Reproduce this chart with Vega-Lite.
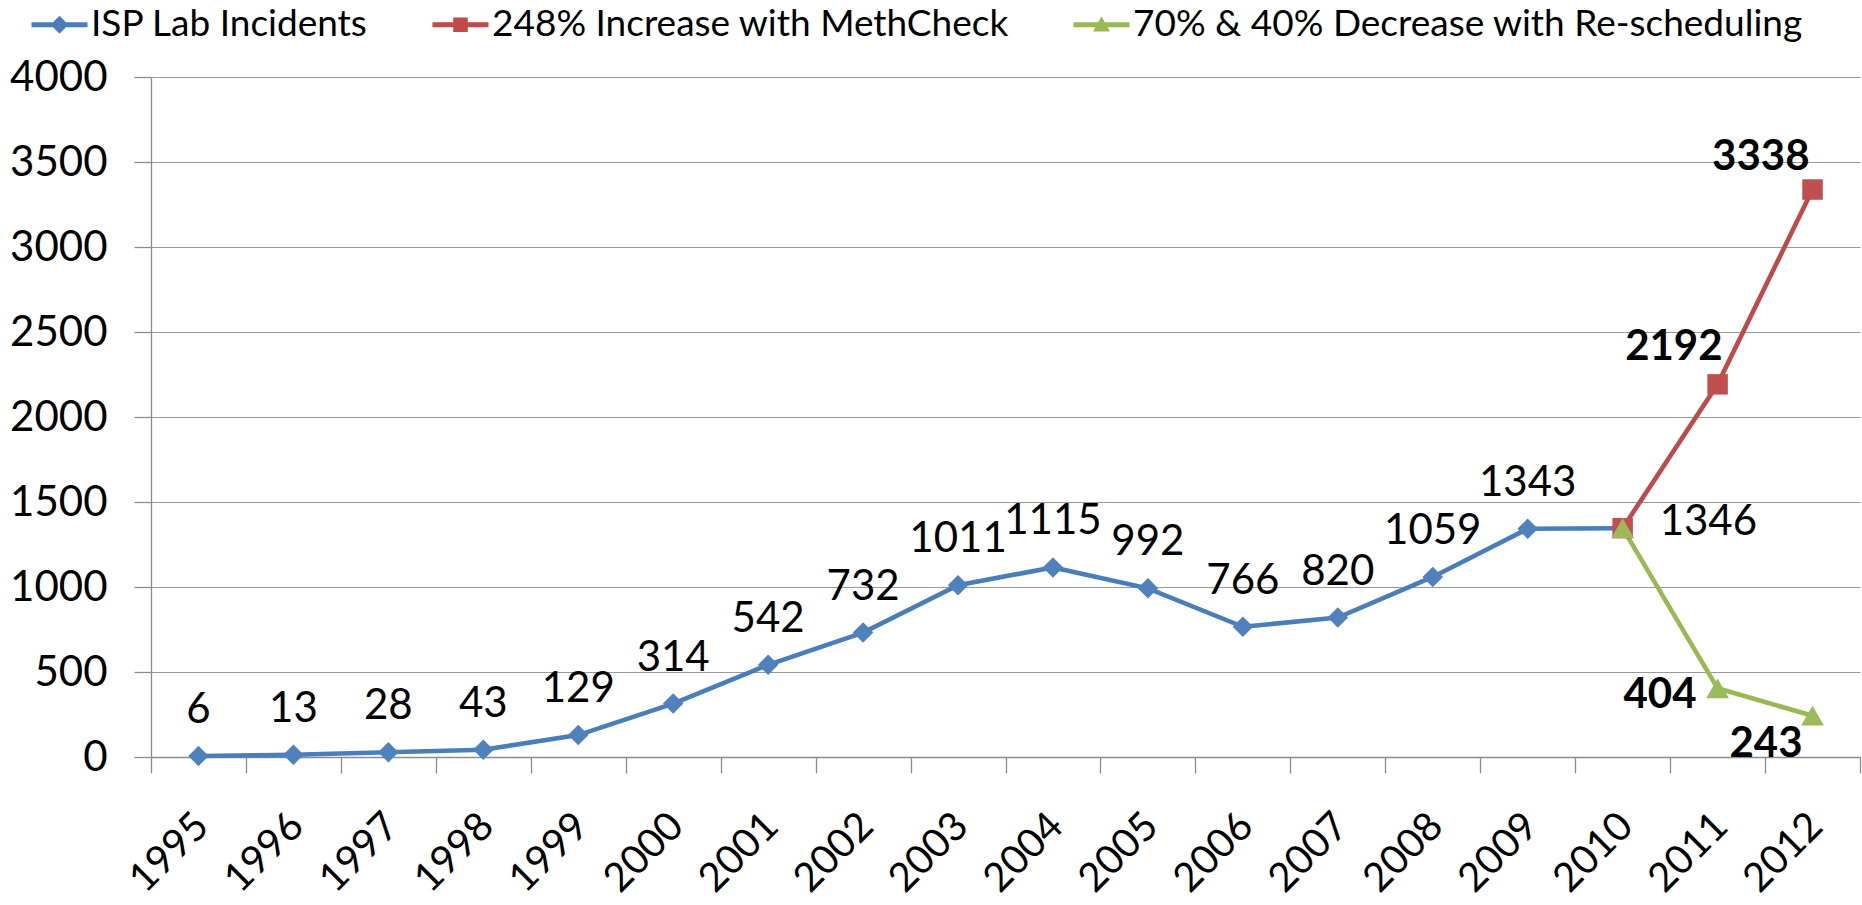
{
  "$schema": "https://vega.github.io/schema/vega-lite/v6.json",
  "width": 1709,
  "height": 680,
  "autosize": {"type": "none"},
  "padding": {"left": 151, "top": 77, "right": 2, "bottom": 148},
  "background": "white",
  "config": {
    "view": {"stroke": null},
    "font": "Lato",
    "axis": {"labelFont": "Lato", "labelColor": "black", "domainColor": "#8c8c8c", "tickColor": "#8c8c8c", "gridColor": "#9a9a9a", "domainWidth": 1.3, "tickWidth": 1.3, "gridWidth": 1.2}
  },
  "data": {
    "values": [
      {"year": "1995", "series": "ISP Lab Incidents", "value": 6},
      {"year": "1996", "series": "ISP Lab Incidents", "value": 13},
      {"year": "1997", "series": "ISP Lab Incidents", "value": 28},
      {"year": "1998", "series": "ISP Lab Incidents", "value": 43},
      {"year": "1999", "series": "ISP Lab Incidents", "value": 129},
      {"year": "2000", "series": "ISP Lab Incidents", "value": 314},
      {"year": "2001", "series": "ISP Lab Incidents", "value": 542},
      {"year": "2002", "series": "ISP Lab Incidents", "value": 732},
      {"year": "2003", "series": "ISP Lab Incidents", "value": 1011},
      {"year": "2004", "series": "ISP Lab Incidents", "value": 1115},
      {"year": "2005", "series": "ISP Lab Incidents", "value": 992},
      {"year": "2006", "series": "ISP Lab Incidents", "value": 766},
      {"year": "2007", "series": "ISP Lab Incidents", "value": 820},
      {"year": "2008", "series": "ISP Lab Incidents", "value": 1059},
      {"year": "2009", "series": "ISP Lab Incidents", "value": 1343},
      {"year": "2010", "series": "ISP Lab Incidents", "value": 1346},
      {"year": "2010", "series": "248% Increase with MethCheck", "value": 1346},
      {"year": "2011", "series": "248% Increase with MethCheck", "value": 2192},
      {"year": "2012", "series": "248% Increase with MethCheck", "value": 3338},
      {"year": "2010", "series": "70% & 40% Decrease with Re-scheduling", "value": 1346},
      {"year": "2011", "series": "70% & 40% Decrease with Re-scheduling", "value": 404},
      {"year": "2012", "series": "70% & 40% Decrease with Re-scheduling", "value": 243}
    ]
  },
  "encoding": {
    "x": {
      "field": "year", "type": "ordinal", "sort": null,
      "scale": {"type": "band", "paddingInner": 0, "paddingOuter": 0},
      "axis": {"title": null, "labelAngle": -45, "labelAlign": "right", "labelBaseline": "alphabetic", "labelOffset": 12, "labelPadding": 55, "labelFontSize": 40, "tickSize": 16, "tickBand": "extent", "grid": false, "labelOverlap": false}
    },
    "y": {
      "field": "value", "type": "quantitative",
      "scale": {"domain": [0, 4000], "nice": false},
      "axis": {"title": null, "values": [0, 500, 1000, 1500, 2000, 2500, 3000, 3500, 4000], "labelFontSize": 42, "tickSize": 17, "labelPadding": 27, "grid": true, "format": "d"}
    }
  },
  "layer": [
    {
      "mark": {"type": "line", "strokeWidth": 4.6},
      "encoding": {
        "color": {
          "field": "series", "type": "nominal",
          "scale": {"domain": ["ISP Lab Incidents", "248% Increase with MethCheck", "70% & 40% Decrease with Re-scheduling"], "range": ["#4A7EBB", "#BE4B48", "#98B954"]},
          "legend": {
            "orient": "none", "legendX": -124, "legendY": -71, "direction": "horizontal", "title": null,
            "labelFont": "Lato", "labelFontSize": 37, "labelColor": "black", "labelLimit": 1000, "labelOffset": 27,
            "columnPadding": 60, "padding": 0, "symbolSize": 784, "symbolStrokeWidth": 0,
            "encode": {"symbols": {"update": {
              "shape": {"signal": "datum.value === 'ISP Lab Incidents' ? 'M-1,-0.18L3,-0.18L3,0.18L-1,0.18Z M0.36,0L1,-0.64L1.64,0L1,0.64Z' : (datum.value === '248% Increase with MethCheck' ? 'M-1,-0.18L3,-0.18L3,0.18L-1,0.18Z M0.48,-0.52L1.52,-0.52L1.52,0.52L0.48,0.52Z' : 'M-1,-0.18L3,-0.18L3,0.18L-1,0.18Z M1,-0.6L1.6,0.48L0.4,0.48Z')"},
              "fill": {"scale": "color", "field": "value"},
              "stroke": {"value": "transparent"},
              "strokeWidth": {"value": 0}
            }}}
          }
        }
      }
    },
    {
      "transform": [{"filter": "datum.series === 'ISP Lab Incidents'"}],
      "mark": {"type": "point", "shape": "diamond", "filled": true, "size": 420, "color": "#4F81BD", "opacity": 1}
    },
    {
      "transform": [{"filter": "datum.series === '248% Increase with MethCheck'"}],
      "mark": {"type": "point", "shape": "square", "filled": true, "size": 420, "color": "#C0504D", "opacity": 1}
    },
    {
      "transform": [{"filter": "datum.series === '70% & 40% Decrease with Re-scheduling'"}],
      "mark": {"type": "point", "shape": "triangle-up", "filled": true, "size": 520, "color": "#9BBB59", "opacity": 1}
    },
    {
      "transform": [{"filter": "datum.series === 'ISP Lab Incidents' && datum.year !== '2010'"}],
      "mark": {"type": "text", "font": "Lato", "fontSize": 42, "align": "center", "baseline": "alphabetic", "dy": -33, "color": "black"},
      "encoding": {"text": {"field": "value", "type": "quantitative", "format": "d"}}
    },
    {
      "transform": [{"filter": "datum.series === 'ISP Lab Incidents' && datum.year === '2010'"}],
      "mark": {"type": "text", "font": "Lato", "fontSize": 42, "align": "left", "baseline": "alphabetic", "dx": 37, "dy": 7, "color": "black"},
      "encoding": {"text": {"field": "value", "type": "quantitative", "format": "d"}}
    },
    {
      "transform": [{"filter": "datum.series === '248% Increase with MethCheck' && datum.year === '2011'"}],
      "mark": {"type": "text", "font": "Lato", "fontSize": 42, "fontWeight": "bold", "align": "right", "baseline": "alphabetic", "dx": 5, "dy": -24, "color": "black"},
      "encoding": {"text": {"field": "value", "type": "quantitative", "format": "d"}}
    },
    {
      "transform": [{"filter": "datum.series === '248% Increase with MethCheck' && datum.year === '2012'"}],
      "mark": {"type": "text", "font": "Lato", "fontSize": 42, "fontWeight": "bold", "align": "right", "baseline": "alphabetic", "dx": -3, "dy": -20, "color": "black"},
      "encoding": {"text": {"field": "value", "type": "quantitative", "format": "d"}}
    },
    {
      "transform": [{"filter": "datum.series === '70% & 40% Decrease with Re-scheduling' && datum.year === '2011'"}],
      "mark": {"type": "text", "font": "Lato", "fontSize": 42, "fontWeight": "bold", "align": "right", "baseline": "alphabetic", "dx": -21, "dy": 20, "color": "black"},
      "encoding": {"text": {"field": "value", "type": "quantitative", "format": "d"}}
    },
    {
      "transform": [{"filter": "datum.series === '70% & 40% Decrease with Re-scheduling' && datum.year === '2012'"}],
      "mark": {"type": "text", "font": "Lato", "fontSize": 42, "fontWeight": "bold", "align": "right", "baseline": "alphabetic", "dx": -10, "dy": 41, "color": "black"},
      "encoding": {"text": {"field": "value", "type": "quantitative", "format": "d"}}
    }
  ]
}
